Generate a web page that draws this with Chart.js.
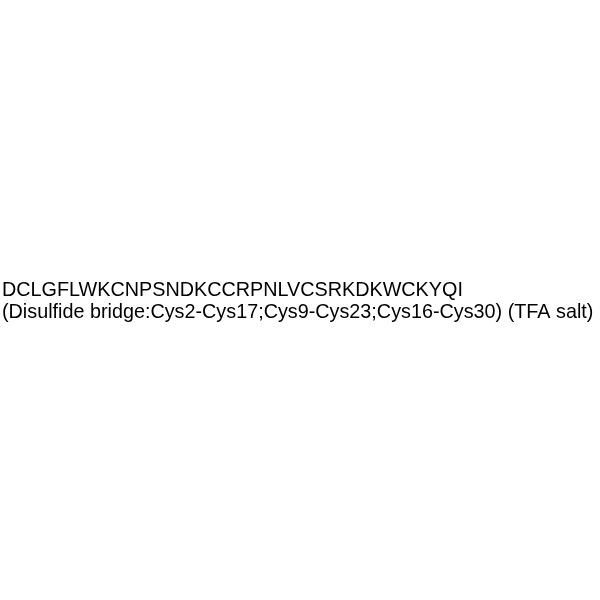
<!DOCTYPE html>
<html>
<head>
<meta charset="utf-8">
<script src="https://cdn.jsdelivr.net/npm/chart.js@4/dist/chart.umd.min.js"></script>
<style>
  html, body { margin: 0; padding: 0; background: #fff; }
  canvas { display: block; }
</style>
</head>
<body>
<canvas id="c" width="600" height="600"></canvas>
<script>
// Testo dell'immagine (nessun dato numerico)
const righe = [
  "DCLGFLWKCNPSNDKCCRPNLVCSRKDKWCKYQI",
  "(Disulfide bridge:Cys2-Cys17;Cys9-Cys23;Cys16-Cys30) (TFA salt)"
];
const categorie = [];
const valori = [];

new Chart(document.getElementById("c"), {
  type: 'bar',
  data: { labels: categorie, datasets: [{ data: valori }] },
  options: {
    responsive: false,
    animation: false,
    layout: { padding: { left: 2, right: 0, top: 0, bottom: 0 } },
    scales: { x: { display: false }, y: { display: false } },
    plugins: {
      legend: { display: false },
      tooltip: { enabled: false },
      title: {
        display: true,
        text: righe,
        align: 'start',
        color: '#000',
        font: { family: "'Liberation Sans', Arial, sans-serif", size: 19.8, weight: 'normal', lineHeight: 1.08 },
        padding: { top: 280, bottom: 0 }
      }
    }
  }
});
</script>
</body>
</html>
